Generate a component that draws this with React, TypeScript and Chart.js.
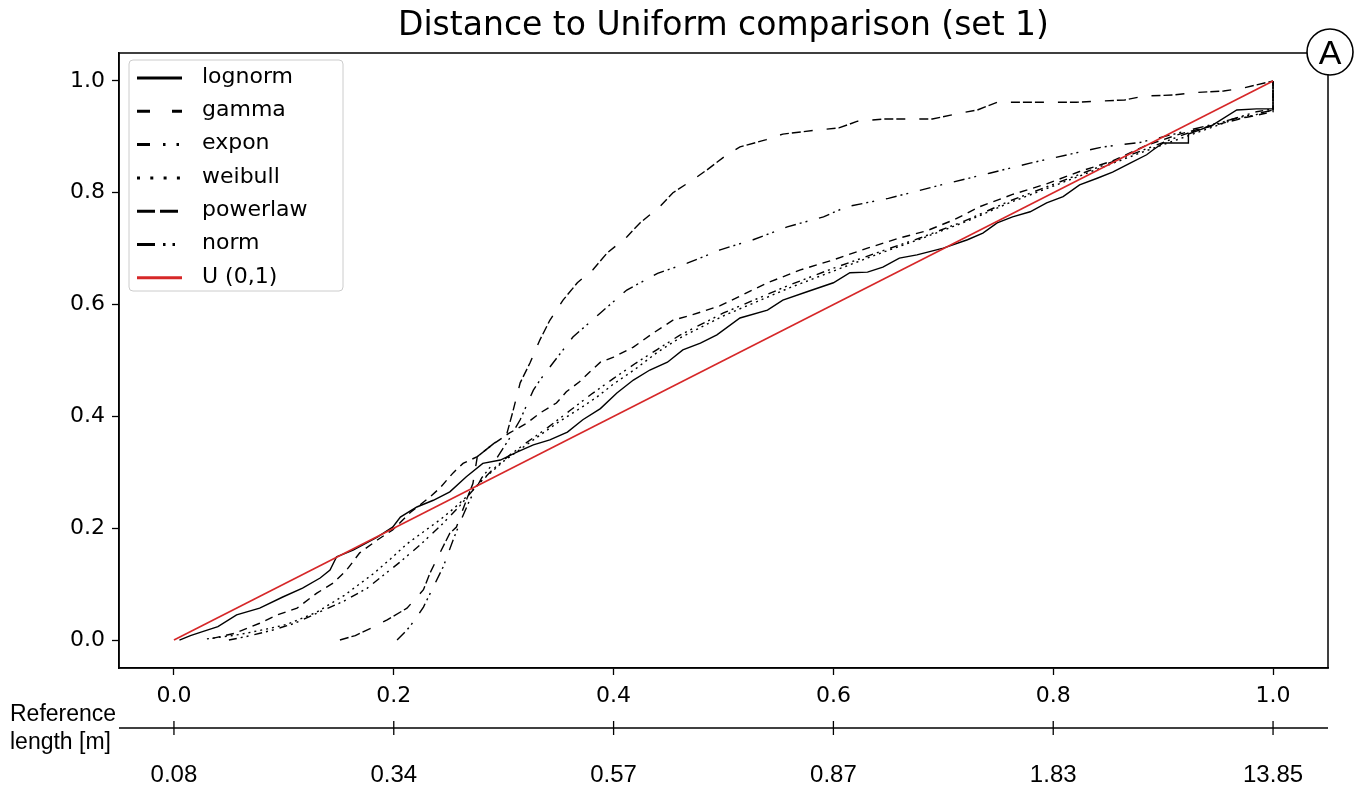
import React, { useEffect, useRef } from "react";
import { Chart, registerables } from "chart.js";

Chart.register(...registerables);

const W = 1357;
const H = 793;

// Axis ticks (shared by the main x axis and the reference-length axis)
const axisTicks = [0, 0.2, 0.4, 0.6, 0.8, 1.0];
const referenceLengths = ["0.08", "0.34", "0.57", "0.87", "1.83", "13.85"];

// Empirical vs fitted CDF values for each distribution
const lognormX = [0.005, 0.015, 0.026, 0.04, 0.057, 0.078, 0.099, 0.117, 0.133, 0.142, 0.148, 0.163, 0.185, 0.199, 0.206, 0.221, 0.236, 0.251, 0.266, 0.281, 0.297, 0.312, 0.327, 0.342, 0.358, 0.372, 0.388, 0.403, 0.418, 0.433, 0.449, 0.463, 0.479, 0.494, 0.515, 0.54, 0.554, 0.576, 0.6, 0.615, 0.631, 0.645, 0.66, 0.676, 0.7, 0.722, 0.736, 0.749, 0.763, 0.779, 0.794, 0.809, 0.824, 0.84, 0.854, 0.87, 0.885, 0.891, 0.9, 0.923, 0.923, 0.945, 0.967, 0.985, 1.0, 1.0];
const lognormY = [0.0, 0.008, 0.015, 0.024, 0.045, 0.057, 0.077, 0.093, 0.111, 0.125, 0.149, 0.161, 0.184, 0.202, 0.22, 0.238, 0.25, 0.265, 0.292, 0.316, 0.322, 0.336, 0.349, 0.358, 0.372, 0.394, 0.414, 0.442, 0.465, 0.483, 0.497, 0.519, 0.531, 0.546, 0.576, 0.59, 0.608, 0.623, 0.639, 0.657, 0.658, 0.667, 0.683, 0.689, 0.701, 0.716, 0.728, 0.746, 0.757, 0.766, 0.782, 0.793, 0.814, 0.826, 0.837, 0.853, 0.868, 0.877, 0.889, 0.889, 0.905, 0.921, 0.948, 0.95, 0.95, 1.0];

const gammaX = [0.035, 0.055, 0.078, 0.094, 0.112, 0.13, 0.145, 0.157, 0.169, 0.185, 0.199, 0.215, 0.233, 0.242, 0.254, 0.263, 0.276, 0.29, 0.305, 0.321, 0.333, 0.348, 0.357, 0.369, 0.378, 0.388, 0.4, 0.418, 0.436, 0.454, 0.472, 0.497, 0.521, 0.54, 0.57, 0.6, 0.631, 0.66, 0.685, 0.71, 0.733, 0.763, 0.794, 0.824, 0.854, 0.885, 0.915, 0.945, 0.976, 1.0, 1.0];
const gammaY = [0.003, 0.012, 0.03, 0.045, 0.057, 0.084, 0.102, 0.125, 0.156, 0.179, 0.197, 0.228, 0.256, 0.272, 0.299, 0.316, 0.328, 0.35, 0.37, 0.388, 0.406, 0.424, 0.444, 0.462, 0.479, 0.497, 0.506, 0.524, 0.549, 0.572, 0.582, 0.598, 0.621, 0.639, 0.662, 0.68, 0.701, 0.719, 0.732, 0.752, 0.775, 0.797, 0.816, 0.838, 0.857, 0.885, 0.905, 0.92, 0.935, 0.945, 1.0];

const exponX = [0.05, 0.07, 0.09, 0.11, 0.13, 0.155, 0.176, 0.19, 0.206, 0.225, 0.245, 0.26, 0.275, 0.29, 0.305, 0.32, 0.34, 0.36, 0.38, 0.4, 0.42, 0.44, 0.46, 0.48, 0.5, 0.53, 0.56, 0.6, 0.64, 0.68, 0.72, 0.76, 0.8, 0.84, 0.88, 0.92, 0.96, 0.985, 1.0, 1.0];
const exponY = [0.0, 0.008, 0.018, 0.03, 0.048, 0.07, 0.093, 0.115, 0.14, 0.172, 0.209, 0.24, 0.275, 0.305, 0.33, 0.352, 0.38, 0.41, 0.44, 0.468, 0.495, 0.52, 0.545, 0.565, 0.585, 0.61, 0.635, 0.665, 0.693, 0.72, 0.75, 0.785, 0.815, 0.845, 0.875, 0.905, 0.93, 0.945, 0.95, 1.0];

const weibullX = [0.03, 0.06, 0.085, 0.103, 0.13, 0.155, 0.181, 0.197, 0.212, 0.228, 0.242, 0.255, 0.266, 0.28, 0.3, 0.327, 0.35, 0.37, 0.385, 0.4, 0.42, 0.44, 0.46, 0.48, 0.5, 0.53, 0.56, 0.6, 0.64, 0.68, 0.72, 0.76, 0.8, 0.84, 0.88, 0.92, 0.96, 0.985, 1.0, 1.0];
const weibullY = [0.002, 0.01, 0.02, 0.028, 0.05, 0.08, 0.118, 0.145, 0.172, 0.195, 0.215, 0.236, 0.256, 0.285, 0.32, 0.358, 0.39, 0.415, 0.435, 0.458, 0.485, 0.515, 0.54, 0.56, 0.58, 0.605, 0.63, 0.66, 0.69, 0.718, 0.748, 0.782, 0.812, 0.842, 0.872, 0.9, 0.928, 0.94, 0.948, 1.0];

const powerlawX = [0.151, 0.165, 0.18, 0.194, 0.212, 0.227, 0.233, 0.242, 0.251, 0.257, 0.266, 0.272, 0.276, 0.29, 0.303, 0.308, 0.315, 0.324, 0.333, 0.342, 0.354, 0.367, 0.381, 0.394, 0.412, 0.424, 0.442, 0.454, 0.472, 0.485, 0.503, 0.515, 0.539, 0.554, 0.584, 0.605, 0.622, 0.646, 0.69, 0.714, 0.731, 0.749, 0.821, 0.865, 0.883, 0.91, 0.927, 0.955, 0.972, 1.0];
const powerlawY = [0.0, 0.008, 0.022, 0.036, 0.057, 0.09, 0.12, 0.156, 0.191, 0.202, 0.25, 0.28, 0.328, 0.35, 0.37, 0.406, 0.46, 0.496, 0.537, 0.572, 0.608, 0.639, 0.662, 0.692, 0.721, 0.746, 0.775, 0.8, 0.823, 0.841, 0.868, 0.882, 0.895, 0.905, 0.912, 0.916, 0.928, 0.932, 0.932, 0.942, 0.948, 0.962, 0.962, 0.966, 0.973, 0.975, 0.979, 0.982, 0.987, 1.0];

const normX = [0.203, 0.212, 0.22, 0.227, 0.236, 0.245, 0.254, 0.26, 0.269, 0.28, 0.292, 0.305, 0.315, 0.327, 0.333, 0.345, 0.363, 0.388, 0.412, 0.44, 0.467, 0.497, 0.527, 0.558, 0.591, 0.612, 0.65, 0.7, 0.742, 0.779, 0.813, 0.845, 0.879, 0.91, 0.94, 0.97, 1.0, 1.0];
const normY = [0.0, 0.018, 0.038, 0.059, 0.095, 0.131, 0.179, 0.209, 0.25, 0.29, 0.32, 0.36, 0.394, 0.447, 0.465, 0.496, 0.542, 0.585, 0.626, 0.656, 0.674, 0.698, 0.716, 0.739, 0.757, 0.775, 0.79, 0.815, 0.835, 0.853, 0.868, 0.882, 0.89, 0.905, 0.92, 0.935, 0.948, 1.0];

const uniformX = [0, 1];
const uniformY = [0, 1];

// Line styles: plot dash pattern and the (thicker) legend handle pattern
const series = [
  { label: "lognorm", xs: lognormX, ys: lognormY, color: "#000000", dash: [] as number[], legendDash: [] as number[] },
  { label: "gamma", xs: gammaX, ys: gammaY, color: "#000000", dash: [8, 6], legendDash: [13, 22] },
  { label: "expon", xs: exponX, ys: exponY, color: "#000000", dash: [8, 4, 2, 4, 2, 6], legendDash: [13, 13, 2.5, 11, 2.5, 11] },
  { label: "weibull", xs: weibullX, ys: weibullY, color: "#000000", dash: [2, 4], legendDash: [3, 10.3] },
  { label: "powerlaw", xs: powerlawX, ys: powerlawY, color: "#000000", dash: [9, 3, 9, 3, 9, 14], legendDash: [18, 5] },
  { label: "norm", xs: normX, ys: normY, color: "#000000", dash: [11, 4, 2, 4, 2, 12], legendDash: [18, 8, 2.5, 7, 2.5, 8] },
  { label: "U (0,1)", xs: uniformX, ys: uniformY, color: "#d62728", dash: [] as number[], legendDash: [] as number[] },
];

const TITLE = "Distance to Uniform comparison (set 1)";
const REF_TITLE = ["Reference", "length [m]"];
const PANEL_TAG = "A";

const MPL_FONT = "'DejaVu Sans', 'Noto Sans', sans-serif";
const REF_FONT = "'Liberation Sans', Arial, sans-serif";

const decorPlugin = {
  id: "decor",
  afterDraw(chart: any) {
    const { ctx, chartArea, scales } = chart;
    const xs = scales.x;
    ctx.save();

    // frame around the plot area
    ctx.strokeStyle = "#000";
    ctx.lineWidth = 1.5;
    ctx.setLineDash([]);
    ctx.strokeRect(chartArea.left, chartArea.top, chartArea.right - chartArea.left, chartArea.bottom - chartArea.top);

    // title
    ctx.fillStyle = "#000";
    ctx.font = `33px ${MPL_FONT}`;
    ctx.textAlign = "center";
    ctx.textBaseline = "alphabetic";
    ctx.fillText(TITLE, (chartArea.left + chartArea.right) / 2, 35);

    // legend
    const lx = chartArea.left + 10;
    const ly = chartArea.top + 7;
    const lw = 214;
    const lh = 231;
    ctx.beginPath();
    ctx.roundRect(lx, ly, lw, lh, 4);
    ctx.fillStyle = "rgba(255,255,255,0.8)";
    ctx.fill();
    ctx.strokeStyle = "#cccccc";
    ctx.lineWidth = 1;
    ctx.stroke();
    ctx.font = `22px ${MPL_FONT}`;
    ctx.textAlign = "left";
    ctx.textBaseline = "middle";
    series.forEach((s, i) => {
      const yy = ly + 18 + i * 33.3;
      ctx.beginPath();
      ctx.setLineDash(s.legendDash);
      ctx.strokeStyle = s.color;
      ctx.lineWidth = 3;
      ctx.moveTo(lx + 8, yy);
      ctx.lineTo(lx + 53, yy);
      ctx.stroke();
      ctx.setLineDash([]);
      ctx.fillStyle = "#000";
      ctx.fillText(s.label, lx + 73, yy - 1);
    });

    // reference-length axis below the plot
    const axisY = 728;
    ctx.strokeStyle = "#000";
    ctx.lineWidth = 1.6;
    ctx.beginPath();
    ctx.moveTo(chartArea.left, axisY);
    ctx.lineTo(chartArea.right, axisY);
    ctx.stroke();
    ctx.lineWidth = 1.3;
    ctx.font = `24px ${REF_FONT}`;
    ctx.textAlign = "center";
    ctx.textBaseline = "middle";
    ctx.fillStyle = "#000";
    axisTicks.forEach((v, i) => {
      const px = xs.getPixelForValue(v);
      ctx.beginPath();
      ctx.moveTo(px, axisY - 7);
      ctx.lineTo(px, axisY + 7);
      ctx.stroke();
      ctx.fillText(referenceLengths[i], px, 775);
    });
    ctx.font = `23px ${REF_FONT}`;
    ctx.textAlign = "left";
    ctx.fillText(REF_TITLE[0], 10, 715);
    ctx.fillText(REF_TITLE[1], 10, 743);

    // panel tag
    const cx = chartArea.right + 2;
    const cy = chartArea.top - 1;
    ctx.beginPath();
    ctx.arc(cx, cy, 23, 0, Math.PI * 2);
    ctx.fillStyle = "#fff";
    ctx.fill();
    ctx.lineWidth = 1.6;
    ctx.strokeStyle = "#000";
    ctx.stroke();
    ctx.fillStyle = "#000";
    ctx.font = `34px ${REF_FONT}`;
    ctx.textAlign = "center";
    ctx.textBaseline = "alphabetic";
    ctx.fillText(PANEL_TAG, cx, cy + 12);

    ctx.restore();
  },
};

export default function App() {
  const canvasRef = useRef<HTMLCanvasElement>(null);

  useEffect(() => {
    const canvas = canvasRef.current;
    if (!canvas) return;

    const datasets = series.map((s, i) => ({
      label: s.label,
      data: s.xs.map((x, j) => ({ x, y: s.ys[j] })),
      borderColor: s.color,
      backgroundColor: s.color,
      borderWidth: s.label === "U (0,1)" ? 1.6 : 1.4,
      borderDash: s.dash,
      pointRadius: 0,
      fill: false,
      tension: 0,
      order: s.label === "U (0,1)" ? 0 : 10 - i,
    }));

    const tickFont = { family: "DejaVu Sans", size: 22 };

    const chart = new Chart(canvas, {
      type: "line",
      data: { datasets },
      plugins: [decorPlugin],
      options: {
        responsive: false,
        animation: false,
        devicePixelRatio: 1,
        layout: { padding: { left: 0, top: 53, right: 29, bottom: 85 } },
        plugins: {
          legend: { display: false },
          title: { display: false },
          tooltip: { enabled: false },
        },
        scales: {
          x: {
            type: "linear",
            min: -0.05,
            max: 1.05,
            afterBuildTicks: (scale: any) => {
              scale.ticks = axisTicks.map((v) => ({ value: v }));
            },
            afterFit: (scale: any) => {
              scale.height = 40;
            },
            ticks: {
              callback: (v: any) => Number(v).toFixed(1),
              font: tickFont,
              color: "#000",
              padding: 8,
              maxRotation: 0,
              autoSkip: false,
            },
            grid: { drawOnChartArea: false, tickLength: 7, color: "#000", tickWidth: 1.3 },
            border: { display: true, color: "#000", width: 1.5 },
          },
          y: {
            type: "linear",
            min: -0.05,
            max: 1.05,
            afterBuildTicks: (scale: any) => {
              scale.ticks = axisTicks.map((v) => ({ value: v }));
            },
            afterFit: (scale: any) => {
              scale.width = 119;
            },
            ticks: {
              callback: (v: any) => Number(v).toFixed(1),
              font: tickFont,
              color: "#000",
              padding: 7,
              autoSkip: false,
            },
            grid: { drawOnChartArea: false, tickLength: 7, color: "#000", tickWidth: 1.3 },
            border: { display: true, color: "#000", width: 1.5 },
          },
        },
      },
    } as any);

    return () => chart.destroy();
  }, []);

  return (
    <div style={{ position: "absolute", left: 0, top: 0, width: W, height: H, background: "#fff" }}>
      <canvas ref={canvasRef} width={W} height={H} style={{ display: "block", width: W, height: H }} />
    </div>
  );
}
